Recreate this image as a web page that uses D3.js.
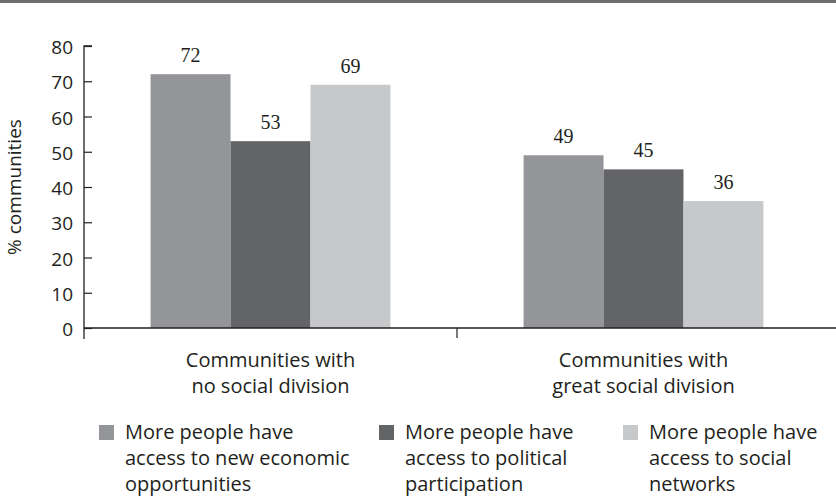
<!DOCTYPE html>
<html>
<head>
<meta charset="utf-8">
<script src="https://cdn.jsdelivr.net/npm/d3@7"></script>
<style>
  html, body { margin: 0; padding: 0; background: #fff; }
  svg { display: block; }
</style>
</head>
<body>
<svg id="chart" width="836" height="498"></svg>
<script>
// Community groups along the x axis (two-line labels)
const categories = ["no", "great"];
const categoryLabels = [
  ["Communities with", "no social division"],
  ["Communities with", "great social division"]
];
// Series and their values (% of communities)
const seriesNames = ["economic", "political", "social"];
const seriesLabels = [
  ["More people have", "access to new economic", "opportunities"],
  ["More people have", "access to political", "participation"],
  ["More people have", "access to social", "networks"]
];
const economicValues = [72, 49];
const politicalValues = [53, 45];
const socialValues = [69, 36];
const seriesColors = ["#939598", "#636466", "#c7c8ca"];
const yTicks = [0, 10, 20, 30, 40, 50, 60, 70, 80];
const yTitle = "% communities";

const values = [economicValues, politicalValues, socialValues];

const svg = d3.select("#chart");
const sansFont = "'Open Sans', 'Noto Sans', sans-serif";
const serifFont = "'Liberation Serif', 'DejaVu Serif', serif";
const ink = "#231f20";

// top rule
svg.append("line")
  .attr("x1", 0).attr("x2", 836).attr("y1", 1.5).attr("y2", 1.5)
  .attr("stroke", "#6d6e71").attr("stroke-width", 3);

const x0 = d3.scaleBand().domain(categories).range([84, 830])
  .paddingInner(0.357).paddingOuter(0.1785);
const x1 = d3.scaleBand().domain(seriesNames).range([0, x0.bandwidth()]);
const y = d3.scaleLinear().domain([0, 80]).range([328, 46]);

// bars
const groups = svg.append("g").selectAll("g")
  .data(categories).join("g")
  .attr("transform", d => `translate(${x0(d)},0)`);

const cells = (c, ci) => seriesNames.map((s, si) => ({ s, si, v: values[si][ci] }));

groups.selectAll("rect")
  .data(cells)
  .join("rect")
  .attr("x", d => x1(d.s))
  .attr("width", x1.bandwidth())
  .attr("y", d => y(d.v))
  .attr("height", d => y(0) - y(d.v))
  .attr("fill", d => seriesColors[d.si]);

groups.selectAll("text.val")
  .data(cells)
  .join("text")
  .attr("class", "val")
  .attr("x", d => x1(d.s) + x1.bandwidth() / 2)
  .attr("y", d => y(d.v) - 12)
  .attr("text-anchor", "middle")
  .attr("font-family", serifFont)
  .attr("font-size", 20)
  .attr("fill", ink)
  .text(d => d.v);

// y axis, ticks pointing inward
const yAxis = d3.axisRight(y).tickValues(yTicks).tickSize(8).tickFormat(d3.format("d"));
const yg = svg.append("g").attr("transform", "translate(84,0)").call(yAxis);
yg.select(".domain").attr("stroke", ink).attr("stroke-width", 1.3)
  .attr("d", `M8,${y(80)}H0V${y(0) + 11}`);
yg.selectAll(".tick line").attr("stroke", ink).attr("stroke-width", 1.2);
yg.selectAll(".tick text")
  .attr("x", -11)
  .attr("dy", "0.4em")
  .attr("text-anchor", "end")
  .attr("font-family", sansFont)
  .attr("font-size", 19)
  .attr("fill", ink);

// x axis line with group divider
svg.append("line")
  .attr("x1", 84).attr("x2", 836).attr("y1", y(0)).attr("y2", y(0))
  .attr("stroke", ink).attr("stroke-width", 1.5);
const divider = (x0(categories[0]) + x0.bandwidth() + x0(categories[1])) / 2;
svg.append("line")
  .attr("x1", divider).attr("x2", divider).attr("y1", y(0)).attr("y2", y(0) + 10)
  .attr("stroke", ink).attr("stroke-width", 1.2);

// category labels
categories.forEach((c, i) => {
  const cx = x0(c) + x0.bandwidth() / 2;
  const t = svg.append("text")
    .attr("x", cx)
    .attr("y", 367)
    .attr("text-anchor", "middle")
    .attr("font-family", sansFont)
    .attr("font-size", 20)
    .attr("fill", ink);
  categoryLabels[i].forEach((line, li) => {
    t.append("tspan").attr("x", cx).attr("dy", li === 0 ? 0 : 26).text(line);
  });
});

// y title
svg.append("text")
  .attr("transform", `translate(21,${(y(0) + y(80)) / 2}) rotate(-90)`)
  .attr("text-anchor", "middle")
  .attr("font-family", sansFont)
  .attr("font-size", 19)
  .attr("fill", ink)
  .text(yTitle);

// legend
const legendX = [99, 379, 623];
seriesNames.forEach((s, i) => {
  const g = svg.append("g").attr("transform", `translate(${legendX[i]},0)`);
  g.append("rect").attr("x", 0).attr("y", 425).attr("width", 15).attr("height", 15)
    .attr("fill", seriesColors[i]);
  const t = g.append("text")
    .attr("x", 26).attr("y", 439)
    .attr("font-family", sansFont)
    .attr("font-size", 20)
    .attr("fill", ink);
  seriesLabels[i].forEach((line, li) => {
    t.append("tspan").attr("x", 26).attr("dy", li === 0 ? 0 : 26).text(line);
  });
});
</script>
</body>
</html>
